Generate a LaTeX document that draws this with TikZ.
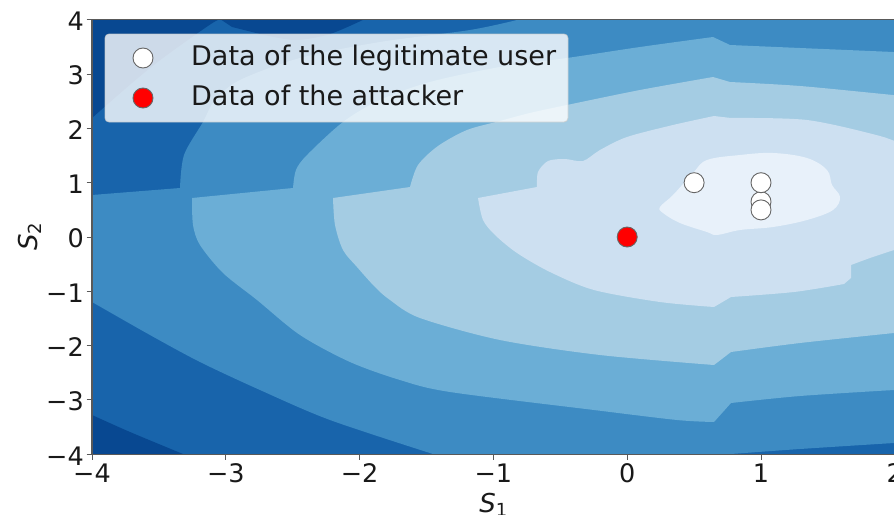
\documentclass[tikz,border=0pt]{standalone}
\usepackage{fontspec}
\setmainfont{DejaVu Sans}
% contour fill levels, darkest to lightest
\definecolor{lvA}{RGB}{8,72,145}
\definecolor{lvB}{RGB}{24,100,171}
\definecolor{lvC}{RGB}{61,139,195}
\definecolor{lvD}{RGB}{107,174,214}
\definecolor{lvE}{RGB}{164,204,227}
\definecolor{lvF}{RGB}{205,224,241}
\definecolor{lvG}{RGB}{232,241,250}
\begin{document}
\begin{tikzpicture}[x=1pt,y=-1pt,
  spine/.style={draw=black!65, line width=1.1pt},
  tk/.style={draw=black!65, line width=1pt},
  ticklab/.style={inner sep=0pt, text=black!90, font=\fontsize{25.5}{25.5}\selectfont},
  legtext/.style={inner sep=0pt, anchor=base west, text=black!90, font=\fontsize{27}{27}\selectfont},
  axlab/.style={inner sep=0pt, anchor=base, text=black!90, font=\fontsize{26}{26}\selectfont},
  ptdot/.style={circle, draw=black!60, line width=0.9pt, minimum size=20pt, inner sep=0pt},
]
\useasboundingbox (0,0) rectangle (894,514);
\clip (0,0) rectangle (894,514);
\fill[white] (0,0) rectangle (894,514);

% ---- filled contour levels ----
\begin{scope}
\clip (92,19.8) rectangle (894.8,454.2);
\fill[lvB] (80,10) rectangle (905,465);
% darkest corners
\fill[lvA] (80,10) -- (80,118) -- plot[smooth, tension=0.6] coordinates {(92,118) (150,68) (205,28) (220,19)}
  -- (232,27) -- plot[smooth] coordinates {(260,34) (295,40) (330,34) (367,18)} -- (367,10) -- cycle;
\fill[lvA] (80,415) -- plot[smooth] coordinates {(92,415) (130,432) (183,454)} -- (183,465) -- (80,465) -- cycle;
% level C
\fill[lvC] (517,10) -- (905,10) -- (905,443)
  -- plot[smooth] coordinates {(894,443) (800,449) (731,454)} -- (731,465) -- (433,465)
  -- plot[smooth] coordinates {(433,454) (330,420) (260,390) (200,362) (150,335) (92,302)}
  -- (80,302) -- (80,195) -- (92,195) -- (180,188)
  -- plot[smooth] coordinates {(180,188) (184,155) (203,122) (215,100) (240,80) (300,58) (380,42) (470,30) (517,20)}
  -- cycle;
% level D
\fill[lvD] (192,198) -- (293,188)
  -- plot[smooth] coordinates {(293,188) (296,170) (307,155) (343,122) (380,100) (430,82) (500,67) (567,58) (640,47) (713,37)}
  -- plot[smooth] coordinates {(730,45) (800,48) (893,52) (905,53)} -- (905,390)
  -- plot[smooth] coordinates {(894,390) (800,396) (731,403)}
  -- plot[smooth] coordinates {(714,422) (677,420) (594,410) (450,392) (400,380) (350,362) (300,335) (257,300) (223,273) (200,245) (193,225) (192,198)}
  -- cycle;
% level E
\fill[lvE] (333,198) -- (410,187)
  -- plot[smooth] coordinates {(410,187) (418,165) (438,146) (467,130) (500,121) (530,113) (567,105) (640,90) (713,77)}
  -- plot[smooth] coordinates {(730,82) (800,86) (893,95) (905,96)} -- (905,333)
  -- plot[smooth] coordinates {(894,333) (800,343) (731,352)}
  -- plot[smooth] coordinates {(714,365) (600,355) (500,340) (420,318) (390,300) (375,287) (357,267) (343,250) (335,225) (333,198)}
  -- cycle;
% level F
\fill[lvF] (478,198) -- (537,187)
  -- plot[smooth] coordinates {(537,187) (538,172) (548,161) (565,159) (583,161) (600,150) (627,137) (673,125) (714,116)}
  -- plot[smooth] coordinates {(731,118) (807,120) (880,136) (905,146)} -- (905,250)
  -- plot[smooth] coordinates {(894,250) (870,258) (851,265)} -- (851,278)
  -- plot[smooth] coordinates {(844,284) (794,292) (731,297)}
  -- plot[smooth] coordinates {(714,307) (660,302) (594,290) (550,272) (517,253) (495,235) (483,220) (478,198)}
  -- cycle;
% level G (innermost)
\fill[lvG] plot[smooth cycle, tension=0.6] coordinates {(660,207) (673,195) (693,173) (707,160) (740,155) (773,153) (807,158) (827,170) (832,185) (840,197) (833,210) (807,220) (773,227) (740,230) (717,235) (707,232) (680,223) (663,213)};
\end{scope}

% ---- axes frame and ticks ----
\draw[spine] (92,454.2) -- (92,19.8) -- (896,19.8);
\draw[spine] (91.5,454.2) -- (896,454.2);
\foreach \v/\t in {-4/−4,-3/−3,-2/−2,-1/−1,0/0,1/1,2/2}{
  \pgfmathsetmacro\px{627.2+133.8*\v}
  \draw[tk] (\px,454.2) -- (\px,459.5);
  \node[ticklab, anchor=north] (xt\v) at (\px,463.5) {\t};
}
\foreach \v/\t in {-4/−4,-3/−3,-2/−2,-1/−1,0/0,1/1,2/2,3/3,4/4}{
  \pgfmathsetmacro\py{237-54.3*\v}
  \draw[tk] (86.5,\py) -- (92,\py);
  \node[ticklab, anchor=east] (yt\v) at (84,\py+1.5) {\t};
}
\node[axlab] (xl) at (493.4,512) {{\itshape S}\raisebox{-4pt}{\fontsize{18}{18}\selectfont 1}};
\node[axlab, rotate=90] (yl) at (37.5,237) {{\itshape S}\raisebox{-4pt}{\fontsize{18}{18}\selectfont 2}};

% ---- data points ----
\node[ptdot, fill=white] (u3) at (761,201.7) {};
\node[ptdot, fill=white] (u1) at (694.1,182.7) {};
\node[ptdot, fill=white] (u2) at (761,182.7) {};
\node[ptdot, fill=white] (u4) at (761,209.9) {};
\node[ptdot, fill=red] (att) at (627.2,237) {};

% ---- legend ----
\draw[draw=black!20, fill=white, fill opacity=0.8, draw opacity=0.8, rounded corners=4pt, line width=0.8pt] (105,34) rectangle (568,122);
\node[ptdot, fill=white] (lu) at (143,58) {};
\node[ptdot, fill=red] (la) at (143,98) {};
\node[legtext] (tu) at (191,65) {Data of the legitimate user};
\node[legtext] (ta) at (191,105) {Data of the attacker};
\end{tikzpicture}
\end{document}
